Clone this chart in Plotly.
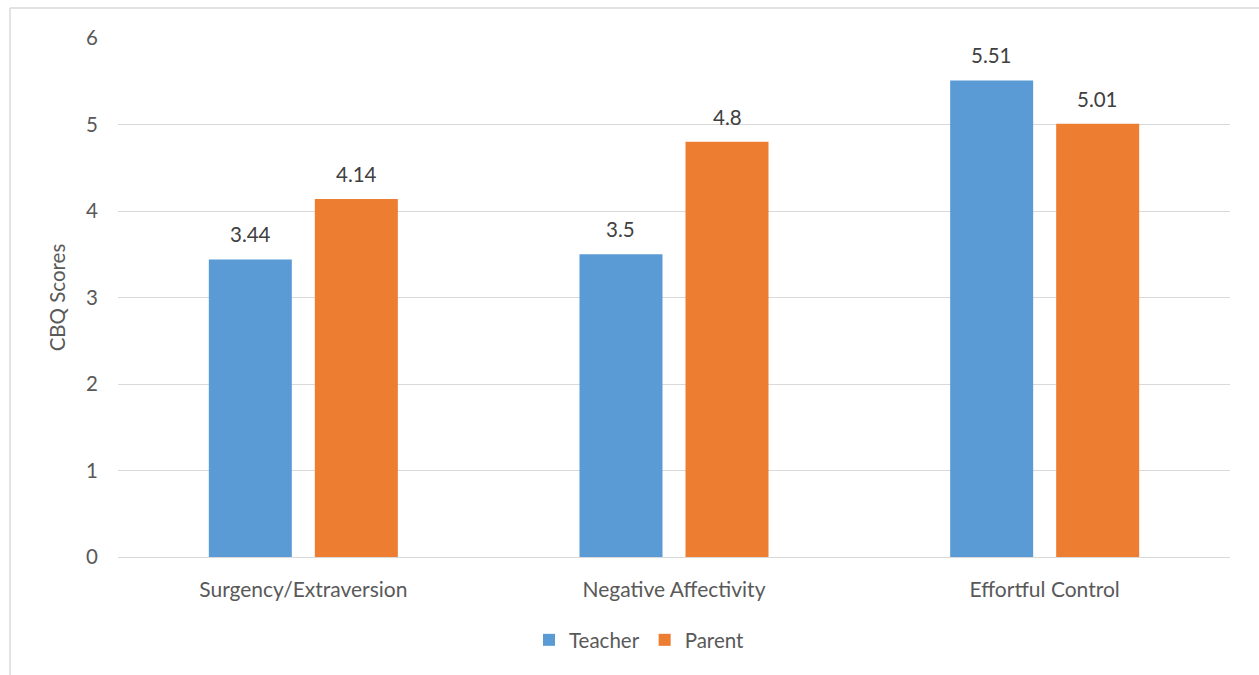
import plotly.graph_objects as go

categories = ["Surgency/Extraversion", "Negative Affectivity", "Effortful Control"]
teacher = [3.44, 3.5, 5.51]
parent = [4.14, 4.8, 5.01]
teacher_labels = ["3.44", "3.5", "5.51"]
parent_labels = ["4.14", "4.8", "5.01"]
y_ticks = [0, 1, 2, 3, 4, 5, 6]

W, H = 1259, 675
L, R, T, B = 118, 29, 38, 118
pw, ph = W - L - R, H - T - B

def px(x):
    return (x - L) / pw

def py(y):
    return (H - B - y) / ph

font = "Lato, Open Sans, sans-serif"
grey = "#595959"
FS = 20.5

BARGAP = 0.428
GROUPGAP = 0.217
slot = pw / len(categories) * (1 - BARGAP) / 2

fig = go.Figure()
fig.add_trace(go.Bar(x=categories, y=teacher, name="Teacher", marker_color="#5b9bd5",
                     marker_line_width=0))
fig.add_trace(go.Bar(x=categories, y=parent, name="Parent", marker_color="#ed7d31",
                     marker_line_width=0))

for vals, labels, sgn in [(teacher, teacher_labels, -1), (parent, parent_labels, 1)]:
    for c, v, t in zip(categories, vals, labels):
        fig.add_annotation(x=c, y=v, text=t, showarrow=False, xshift=sgn * slot / 2,
                           yshift=25, yanchor="middle",
                           font=dict(size=FS, color="#404040", family=font))

fig.update_layout(
    width=W, height=H,
    margin=dict(l=L, r=R, t=T, b=B),
    paper_bgcolor="white", plot_bgcolor="white",
    barmode="group", bargap=BARGAP, bargroupgap=GROUPGAP,
    font=dict(family=font, size=FS, color=grey),
    showlegend=True,
    legend=dict(orientation="h", x=px(639.5), xanchor="center", y=py(640), yanchor="middle",
                font=dict(size=FS, color=grey), itemwidth=30, traceorder="normal"),
    xaxis=dict(showline=False, ticks="", tickfont=dict(size=21, color=grey),
               ticklabelstandoff=18),
    yaxis=dict(range=[0, 6], tickvals=y_ticks, showgrid=True, gridcolor="#d9d9d9",
               gridwidth=1.3, zeroline=True, zerolinecolor="#d9d9d9", zerolinewidth=1.3,
               ticks="", tickfont=dict(size=FS, color=grey), ticklabelstandoff=19,
               title=dict(text="CBQ Scores", font=dict(size=FS, color=grey), standoff=14)),
)

# chart frame (partially cropped in reference)
fig.add_shape(type="line", xref="paper", yref="paper",
              x0=px(10), x1=px(10), y0=py(8), y1=py(700),
              line=dict(color="#d9d9d9", width=1.5))
fig.add_shape(type="line", xref="paper", yref="paper",
              x0=px(10), x1=px(1270), y0=py(8), y1=py(8),
              line=dict(color="#d9d9d9", width=1.5))

fig.write_html("out.html")
